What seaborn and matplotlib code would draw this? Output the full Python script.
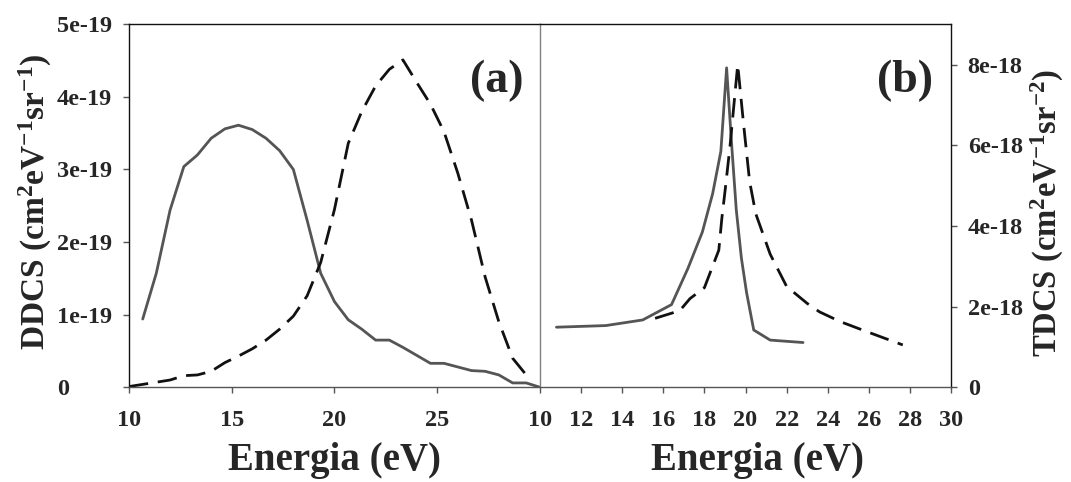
"""
Secciones eficaces DDCS (a) y TDCS (b) frente a la energía
"""

import numpy as np
import matplotlib
matplotlib.use("Agg")
import matplotlib.pyplot as plt
import seaborn as sns

# Datos
# (a) DDCS, unidades de 1e-19 cm^2 eV^-1 sr^-1
energia_a_solida = [10.67, 11.33, 12.0, 12.67, 13.33, 14.0, 14.67, 15.33, 16.0, 16.67,
                    17.33, 18.0, 18.67, 19.33, 20.0, 20.67, 21.33, 22.0, 22.67, 23.33,
                    24.0, 24.67, 25.33, 26.0, 26.67, 27.33, 28.0, 28.67, 29.33, 30.0]
ddcs_solida = [0.94, 1.57, 2.44, 3.04, 3.20, 3.43, 3.56, 3.61, 3.55, 3.43,
               3.26, 3.00, 2.30, 1.57, 1.18, 0.93, 0.80, 0.65, 0.65, 0.55,
               0.44, 0.33, 0.33, 0.28, 0.23, 0.22, 0.17, 0.06, 0.06, 0.0]

energia_a_trazos = [10.0, 10.67, 11.33, 12.0, 12.67, 13.33, 14.0, 14.67, 15.33, 16.0,
                    16.67, 17.33, 18.0, 18.67, 19.33, 20.0, 20.67, 21.33, 22.0, 22.67,
                    23.33, 24.0, 24.67, 25.33, 26.0, 26.67, 27.33, 28.0, 28.67, 29.33]
ddcs_trazos = [0.01, 0.04, 0.07, 0.10, 0.16, 0.17, 0.22, 0.34, 0.43, 0.53,
               0.65, 0.80, 0.98, 1.26, 1.72, 2.45, 3.36, 3.80, 4.15, 4.38,
               4.51, 4.20, 3.90, 3.52, 2.95, 2.30, 1.52, 0.90, 0.40, 0.17]

# (b) TDCS, unidades de 1e-18 cm^2 eV^-1 sr^-2
energia_b_solida = [10.8, 13.2, 15.0, 16.4, 17.2, 17.9, 18.4, 18.8, 19.08, 19.3,
                    19.55, 19.8, 20.05, 20.4, 21.2, 22.8]
tdcs_solida = [1.49, 1.53, 1.67, 2.05, 2.95, 3.85, 4.80, 5.85, 7.92, 6.20,
               4.40, 3.20, 2.35, 1.42, 1.17, 1.11]

energia_b_trazos = [15.6, 16.8, 17.3, 18.0, 18.7, 18.85, 19.0, 19.25, 19.62, 19.9,
                    20.2, 20.5, 21.2, 22.0, 23.0, 23.6, 24.6, 25.9, 27.65]
tdcs_trazos = [1.71, 1.90, 2.20, 2.47, 3.40, 4.20, 4.85, 6.00, 8.00, 6.55,
               5.10, 4.30, 3.30, 2.50, 2.08, 1.87, 1.63, 1.38, 1.05]

ticks_y_a = ["0", "1e-19", "2e-19", "3e-19", "4e-19", "5e-19"]
ticks_y_b = ["0", "2e-18", "4e-18", "6e-18", "8e-18"]

sns.set_style("white")
plt.rcParams["font.family"] = ["Liberation Serif", "DejaVu Serif"]
plt.rcParams["font.weight"] = "bold"
plt.rcParams["mathtext.fontset"] = "custom"
plt.rcParams["mathtext.rm"] = "Liberation Serif:bold"
plt.rcParams["mathtext.it"] = "Liberation Serif:bold"
plt.rcParams["mathtext.bf"] = "Liberation Serif:bold"

gris = "#555555"
fig = plt.figure(figsize=(10.71, 4.82), dpi=100)
ax1 = fig.add_axes([0.1204, 0.1965, 0.3838, 0.7531])
ax2 = fig.add_axes([0.5042, 0.1965, 0.3838, 0.7531])

# Panel (a)
sns.lineplot(x=energia_a_solida, y=np.array(ddcs_solida) * 1e-19, ax=ax1,
             color=gris, linewidth=2.0)
sns.lineplot(x=energia_a_trazos, y=np.array(ddcs_trazos) * 1e-19, ax=ax1,
             color="#111111", linewidth=2.0, linestyle=(0, (7, 3.5)))
ax1.set_xlim(10, 30)
ax1.set_ylim(0, 5e-19)
ax1.set_xticks([10, 15, 20, 25])
ax1.set_yticks(np.arange(6) * 1e-19)
ax1.set_yticklabels(ticks_y_a, ha="left")
ax1.tick_params(axis="x", direction="out", length=4, width=1, color=gris,
                labelsize=17.5, pad=12, bottom=True)
ax1.tick_params(axis="y", direction="out", length=4, width=1, color=gris,
                labelsize=17.5, pad=48, left=True)
ax1.set_xlabel("Energia (eV)", fontsize=28, fontweight="bold")
ax1.xaxis.set_label_coords(0.5, -0.15)
ax1.set_ylabel(r"DDCS (cm$^{2}$eV$^{-1}$sr$^{-1}$)", fontsize=24, fontweight="bold")
ax1.yaxis.set_label_coords(-0.183, 0.51)
ax1.text(0.96, 0.845, "(a)", transform=ax1.transAxes, ha="right", va="center",
         fontsize=33, fontweight="bold")

# Panel (b)
sns.lineplot(x=energia_b_solida, y=np.array(tdcs_solida) * 1e-18, ax=ax2,
             color=gris, linewidth=2.0)
sns.lineplot(x=energia_b_trazos, y=np.array(tdcs_trazos) * 1e-18, ax=ax2,
             color="#111111", linewidth=2.0, linestyle=(0, (7, 3.5)))
ax2.set_xlim(10, 30)
ax2.set_ylim(0, 9e-18)
ax2.set_xticks(np.arange(10, 31, 2))
ax2.yaxis.tick_right()
ax2.yaxis.set_label_position("right")
ax2.set_yticks(np.arange(5) * 2e-18)
ax2.set_yticklabels(ticks_y_b)
ax2.tick_params(axis="x", direction="out", length=4, width=1, color=gris,
                labelsize=17.5, pad=12, bottom=True)
ax2.tick_params(axis="y", direction="out", length=4, width=1, color=gris,
                labelsize=17.5, pad=8, right=True, left=False)
ax2.set_xlabel("Energia (eV)", fontsize=28, fontweight="bold")
ax2.xaxis.set_label_coords(0.53, -0.15)
ax2.set_ylabel(r"TDCS (cm$^{2}$eV$^{-1}$sr$^{-2}$)", fontsize=23.5, fontweight="bold",
               rotation=90)
ax2.yaxis.set_label_coords(1.19, 0.48)
ax2.text(0.955, 0.845, "(b)", transform=ax2.transAxes, ha="right", va="center",
         fontsize=33, fontweight="bold")

# Ejes
for ax in (ax1, ax2):
    for lado in ("top", "bottom", "left", "right"):
        ax.spines[lado].set_linewidth(1.0)
    ax.spines["top"].set_color("#111111")
    ax.spines["bottom"].set_color(gris)
ax1.spines["left"].set_color("#111111")
ax1.spines["right"].set_visible(False)
ax2.spines["left"].set_color("#808080")
ax2.spines["right"].set_color("#111111")

fig.savefig("out.png", dpi=100)
